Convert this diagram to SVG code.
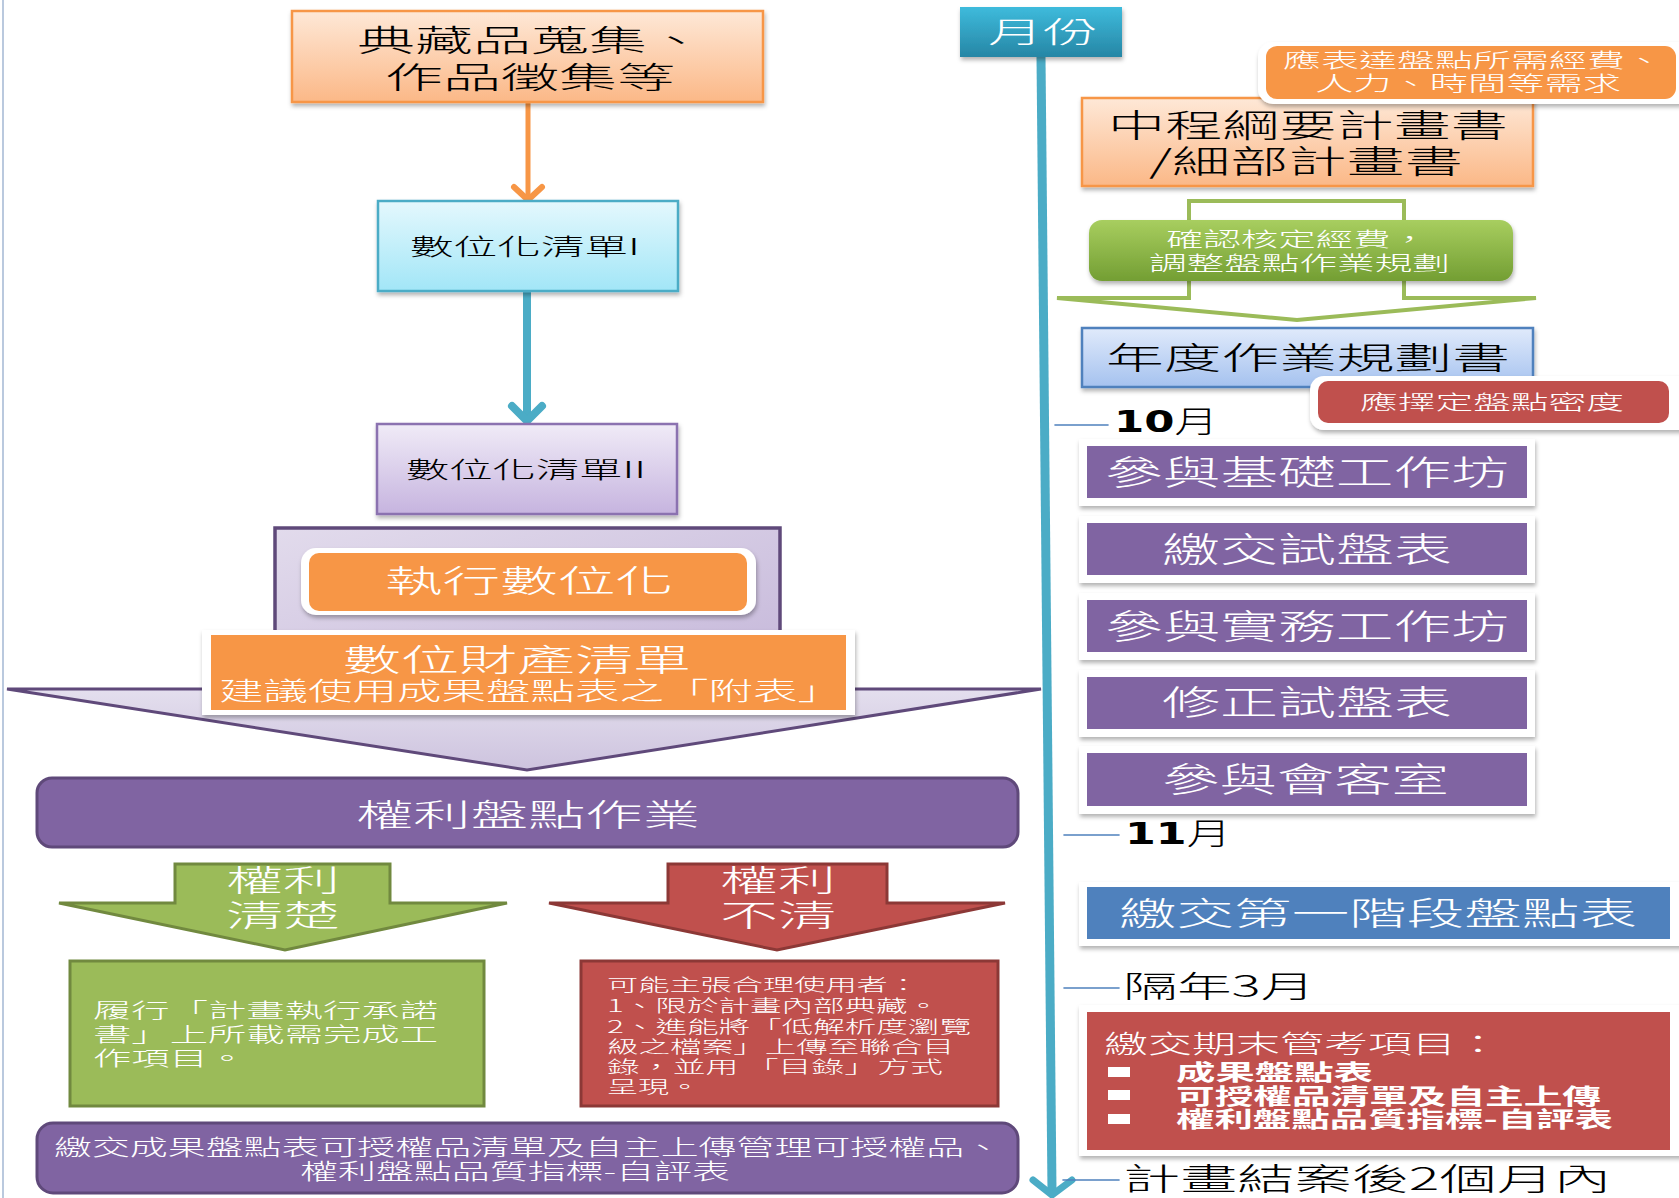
<svg xmlns="http://www.w3.org/2000/svg" width="1679" height="1198" viewBox="0 0 1679 1198">
<defs>
<style>
.t{font-family:"Noto Sans CJK TC","Noto Sans CJK SC",sans-serif;font-weight:300}
.w{fill:#ffffff}
.k{fill:#000000}
.d{font-family:"DejaVu Sans",sans-serif;font-weight:bold}
.card{fill:#ffffff;filter:url(#sh)}
.pur{fill:#8064a2}
.tick{stroke:#4f81bd;stroke-width:1.6;fill:none}
</style>
<linearGradient id="gOr" x1="0" y1="0" x2="0" y2="1"><stop offset="0" stop-color="#fee8d7"/><stop offset="1" stop-color="#fbb887"/></linearGradient>
<linearGradient id="gCy" x1="0" y1="0" x2="0" y2="1"><stop offset="0" stop-color="#e4f8fd"/><stop offset="1" stop-color="#a2e6f7"/></linearGradient>
<linearGradient id="gLv" x1="0" y1="0" x2="0" y2="1"><stop offset="0" stop-color="#f0ebf7"/><stop offset="1" stop-color="#c6b4df"/></linearGradient>
<linearGradient id="gBl" x1="0" y1="0" x2="0" y2="1"><stop offset="0" stop-color="#e0eafb"/><stop offset="1" stop-color="#a5c2ef"/></linearGradient>
<linearGradient id="gTeal" x1="0" y1="0" x2="0" y2="1"><stop offset="0" stop-color="#3ebbdc"/><stop offset="1" stop-color="#2686a5"/></linearGradient>
<linearGradient id="gGr" x1="0" y1="0" x2="0" y2="1"><stop offset="0" stop-color="#a8ce5f"/><stop offset="1" stop-color="#739e33"/></linearGradient>
<linearGradient id="gFrame" x1="0" y1="0" x2="1" y2="1"><stop offset="0" stop-color="#e2dbec"/><stop offset="1" stop-color="#c4b6d9"/></linearGradient>
<linearGradient id="gTri" x1="0" y1="0" x2="0" y2="1"><stop offset="0" stop-color="#e4dfee"/><stop offset="1" stop-color="#cdc3de"/></linearGradient>
<filter id="sh" x="-5%" y="-15%" width="112%" height="140%"><feDropShadow dx="1" dy="3" stdDeviation="2" flood-color="#000000" flood-opacity="0.3"/></filter>
</defs>
<rect x="0" y="0" width="1679" height="1198" fill="#ffffff"/>
<line x1="3" y1="0" x2="3" y2="1198" stroke="#a9bcd6" stroke-width="1.6"/>

<g id="connectors" fill="none" stroke-linecap="round" stroke-linejoin="round">
<line x1="528" y1="102" x2="528" y2="198" stroke="#f79646" stroke-width="5"/>
<polyline points="514,187 528,200 542,187" stroke="#f79646" stroke-width="6"/>
<line x1="527" y1="291" x2="527" y2="419" stroke="#4bacc6" stroke-width="8"/>
<polyline points="512,406 527,421 542,406" stroke="#4bacc6" stroke-width="8"/>
<line x1="1041" y1="57" x2="1052" y2="1192" stroke="#4bacc6" stroke-width="9" stroke-linecap="butt"/>
<polyline points="1033,1180 1052,1195 1072,1180" stroke="#4bacc6" stroke-width="7"/>
<line class="tick" x1="1055" y1="425" x2="1108" y2="425"/>
<line class="tick" x1="1064" y1="835" x2="1119" y2="835"/>
<line class="tick" x1="1064" y1="988" x2="1119" y2="988"/>
<line class="tick" x1="1063" y1="1180" x2="1119" y2="1180"/>
</g>

<g id="n-collect">
<rect x="292" y="11" width="471" height="91" fill="url(#gOr)" stroke="#f79646" stroke-width="2.5" filter="url(#sh)"/>
<text class="t k" font-size="30"><tspan x="357" y="51" textLength="348" lengthAdjust="spacingAndGlyphs">典藏品蒐集、</tspan><tspan x="385" y="88" textLength="290" lengthAdjust="spacingAndGlyphs">作品徵集等</tspan></text>
</g>

<g id="n-list1">
<rect x="378" y="201" width="300" height="90" fill="url(#gCy)" stroke="#4bacc6" stroke-width="2.5" filter="url(#sh)"/>
<text class="t k" x="410" y="255" font-size="23" textLength="230" lengthAdjust="spacingAndGlyphs">數位化清單I</text>
</g>

<g id="n-list2">
<rect x="377" y="424" width="300" height="90" fill="url(#gLv)" stroke="#8b72b0" stroke-width="2.5" filter="url(#sh)"/>
<text class="t k" x="406" y="478" font-size="23" textLength="240" lengthAdjust="spacingAndGlyphs">數位化清單II</text>
</g>

<g id="n-funnel">
<polygon points="7,689 1041,689 527,770" fill="url(#gTri)" stroke="#5f497a" stroke-width="3" stroke-linejoin="miter"/>
<rect x="275" y="528" width="505" height="162" fill="url(#gFrame)" stroke="#5f497a" stroke-width="3.5"/>
</g>

<g id="n-digitize">
<rect x="301" y="548" width="455" height="67" rx="15" fill="#ffffff" filter="url(#sh)"/>
<rect x="309" y="553" width="438" height="58" rx="10" fill="#f79646"/>
<text class="t w" x="385" y="592" font-size="31" textLength="288" lengthAdjust="spacingAndGlyphs">執行數位化</text>
</g>

<g id="n-asset">
<rect x="202" y="630" width="653" height="85" fill="#ffffff" filter="url(#sh)"/>
<rect x="211" y="635" width="635" height="75" fill="#f79646"/>
<text class="t w"><tspan x="343" y="671" font-size="31" textLength="348" lengthAdjust="spacingAndGlyphs">數位財產清單</tspan><tspan x="219" y="700" font-size="25" textLength="623" lengthAdjust="spacingAndGlyphs">建議使用成果盤點表之「附表」</tspan></text>
</g>

<g id="n-rights">
<rect x="37" y="778" width="981" height="69" rx="15" class="pur" stroke="#5f497a" stroke-width="3"/>
<text class="t w" x="356" y="826" font-size="31" textLength="344" lengthAdjust="spacingAndGlyphs">權利盤點作業</text>
</g>

<g id="n-clear">
<path d="M175,864 L390,864 L390,903 L507,903 L285,950 L59,903 L175,903 Z" fill="#9bbb59" stroke="#71893f" stroke-width="3" stroke-linejoin="miter"/>
<text class="t w" font-size="30"><tspan x="226" y="891" textLength="114" lengthAdjust="spacingAndGlyphs">權利</tspan><tspan x="226" y="926" textLength="114" lengthAdjust="spacingAndGlyphs">清楚</tspan></text>
</g>

<g id="n-unclear">
<path d="M668,864 L887,864 L887,903 L1005,903 L777,950 L549,903 L668,903 Z" fill="#c0504d" stroke="#8c3836" stroke-width="3" stroke-linejoin="miter"/>
<text class="t w" font-size="30"><tspan x="720" y="891" textLength="116" lengthAdjust="spacingAndGlyphs">權利</tspan><tspan x="720" y="926" textLength="116" lengthAdjust="spacingAndGlyphs">不清</tspan></text>
</g>

<g id="n-clear-box">
<rect x="70" y="961" width="414" height="145" fill="#9bbb59" stroke="#71893f" stroke-width="3"/>
<text class="t w" font-size="20.5"><tspan x="93" y="1018" textLength="345" lengthAdjust="spacingAndGlyphs">履行「計畫執行承諾</tspan><tspan x="93" y="1042" textLength="345" lengthAdjust="spacingAndGlyphs">書」上所載需完成工</tspan><tspan x="93" y="1066" textLength="153" lengthAdjust="spacingAndGlyphs">作項目。</tspan></text>
</g>

<g id="n-unclear-box">
<rect x="581" y="961" width="417" height="145" fill="#c0504d" stroke="#8c3836" stroke-width="3"/>
<text class="t w" font-size="17"><tspan x="607" y="991" textLength="312" lengthAdjust="spacingAndGlyphs">可能主張合理使用者：</tspan><tspan x="607" y="1012" textLength="332" lengthAdjust="spacingAndGlyphs">1、限於計畫內部典藏。</tspan><tspan x="607" y="1033" textLength="364" lengthAdjust="spacingAndGlyphs">2、進能將「低解析度瀏覽</tspan><tspan x="607" y="1053" textLength="347" lengthAdjust="spacingAndGlyphs">級之檔案」上傳至聯合目</tspan><tspan x="607" y="1073" textLength="336" lengthAdjust="spacingAndGlyphs">錄，並用 「目錄」方式</tspan><tspan x="607" y="1093" textLength="93" lengthAdjust="spacingAndGlyphs">呈現。</tspan></text>
</g>

<g id="n-submit">
<rect x="37" y="1123" width="981" height="70" rx="16" class="pur" stroke="#5f497a" stroke-width="3"/>
<text class="t w" font-size="21.5"><tspan x="54" y="1155" textLength="948" lengthAdjust="spacingAndGlyphs">繳交成果盤點表可授權品清單及自主上傳管理可授權品、</tspan><tspan x="300" y="1179" textLength="430" lengthAdjust="spacingAndGlyphs">權利盤點品質指標-自評表</tspan></text>
</g>

<g id="n-month">
<rect x="960" y="7" width="162" height="50" fill="url(#gTeal)" filter="url(#sh)"/>
<text class="t w" x="988" y="43" font-size="29" textLength="110" lengthAdjust="spacingAndGlyphs">月份</text>
</g>

<g id="n-plan">
<rect x="1082" y="98" width="451" height="88" fill="url(#gOr)" stroke="#f79646" stroke-width="2.5" filter="url(#sh)"/>
<text class="t k" font-size="32"><tspan x="1108" y="137" textLength="400" lengthAdjust="spacingAndGlyphs">中程綱要計畫書</tspan><tspan x="1149" y="173" textLength="314" lengthAdjust="spacingAndGlyphs">/細部計畫書</tspan></text>
</g>

<g id="n-note-budget">
<rect x="1258" y="42" width="440" height="62" rx="15" fill="#ffffff" filter="url(#sh)"/>
<rect x="1266" y="46" width="410" height="53" rx="11" fill="#f79646"/>
<text class="t w" font-size="20.5"><tspan x="1283" y="68" textLength="380" lengthAdjust="spacingAndGlyphs">應表達盤點所需經費、</tspan><tspan x="1315" y="91" textLength="306" lengthAdjust="spacingAndGlyphs">人力、時間等需求</tspan></text>
</g>

<g id="n-confirm">
<path d="M1189,201 L1404,201 L1404,298 L1536,298 L1297,320 L1057,298 L1189,298 Z" fill="#ffffff" stroke="#9bbb59" stroke-width="4" stroke-linejoin="miter"/>
<rect x="1089" y="220" width="424" height="61" rx="13" fill="url(#gGr)" filter="url(#sh)"/>
<text class="t w" font-size="20.5"><tspan x="1166" y="247" textLength="262" lengthAdjust="spacingAndGlyphs">確認核定經費，</tspan><tspan x="1149" y="271" textLength="301" lengthAdjust="spacingAndGlyphs">調整盤點作業規劃</tspan></text>
</g>

<g id="n-annual">
<rect x="1082" y="328" width="451" height="59" fill="url(#gBl)" stroke="#4f81bd" stroke-width="2.5" filter="url(#sh)"/>
<text class="t k" x="1106" y="369" font-size="31" textLength="404" lengthAdjust="spacingAndGlyphs">年度作業規劃書</text>
</g>

<g id="n-note-density">
<rect x="1310" y="376" width="390" height="54" rx="14" fill="#ffffff" filter="url(#sh)"/>
<rect x="1318" y="381" width="351" height="42" rx="10" fill="#c0504d"/>
<text class="t w" x="1360" y="410" font-size="20.5" textLength="264" lengthAdjust="spacingAndGlyphs">應擇定盤點密度</text>
</g>

<g id="m-oct">
<text class="t k" x="1114" y="432" font-size="30" textLength="104" lengthAdjust="spacingAndGlyphs"><tspan class="d">10</tspan>月</text>
</g>

<g id="n-ws1">
<rect x="1079" y="439" width="456" height="67" class="card"/>
<rect x="1087" y="446" width="440" height="52" class="pur"/>
<text class="t w" x="1105" y="485" font-size="34" textLength="404" lengthAdjust="spacingAndGlyphs">參與基礎工作坊</text>
</g>
<g id="n-trial">
<rect x="1079" y="516" width="456" height="67" class="card"/>
<rect x="1087" y="523" width="440" height="52" class="pur"/>
<text class="t w" x="1162" y="562" font-size="34" textLength="290" lengthAdjust="spacingAndGlyphs">繳交試盤表</text>
</g>
<g id="n-ws2">
<rect x="1079" y="593" width="456" height="67" class="card"/>
<rect x="1087" y="600" width="440" height="52" class="pur"/>
<text class="t w" x="1105" y="639" font-size="34" textLength="404" lengthAdjust="spacingAndGlyphs">參與實務工作坊</text>
</g>
<g id="n-revise">
<rect x="1079" y="670" width="456" height="67" class="card"/>
<rect x="1087" y="677" width="440" height="52" class="pur"/>
<text class="t w" x="1162" y="715" font-size="34" textLength="290" lengthAdjust="spacingAndGlyphs">修正試盤表</text>
</g>
<g id="n-meet">
<rect x="1079" y="746" width="456" height="68" class="card"/>
<rect x="1087" y="753" width="440" height="53" class="pur"/>
<text class="t w" x="1162" y="792" font-size="34" textLength="287" lengthAdjust="spacingAndGlyphs">參與會客室</text>
</g>

<g id="m-nov">
<text class="t k" x="1125" y="844" font-size="30" textLength="106" lengthAdjust="spacingAndGlyphs"><tspan class="d">11</tspan>月</text>
</g>

<g id="n-stage1">
<rect x="1079" y="882" width="610" height="64" class="card"/>
<rect x="1087" y="887" width="583" height="52" fill="#4f81bd"/>
<text class="t w" x="1119" y="925" font-size="32" textLength="518" lengthAdjust="spacingAndGlyphs">繳交第一階段盤點表</text>
</g>

<g id="m-mar">
<text class="t k" x="1123" y="997" font-size="30" textLength="192" lengthAdjust="spacingAndGlyphs">隔年3月</text>
</g>

<g id="n-final">
<rect x="1079" y="1005" width="610" height="151" class="card"/>
<rect x="1087" y="1012" width="583" height="138" fill="#c0504d"/>
<rect x="1108" y="1067" width="22" height="10" fill="#ffffff"/>
<rect x="1108" y="1090" width="22" height="10" fill="#ffffff"/>
<rect x="1108" y="1114" width="22" height="10" fill="#ffffff"/>
<text class="t w"><tspan x="1104" y="1053" font-size="25" textLength="396" lengthAdjust="spacingAndGlyphs">繳交期末管考項目：</tspan><tspan x="1176" y="1080" font-size="21.5" font-weight="bold" textLength="197" lengthAdjust="spacingAndGlyphs">成果盤點表</tspan><tspan x="1176" y="1104" font-size="21.5" font-weight="bold" textLength="425" lengthAdjust="spacingAndGlyphs">可授權品清單及自主上傳</tspan><tspan x="1176" y="1127" font-size="21.5" font-weight="bold" textLength="437" lengthAdjust="spacingAndGlyphs">權利盤點品質指標-自評表</tspan></text>
</g>

<g id="m-end">
<text class="t k" x="1123" y="1190" font-size="31" textLength="488" lengthAdjust="spacingAndGlyphs">計畫結案後2個月內</text>
</g>
</svg>
